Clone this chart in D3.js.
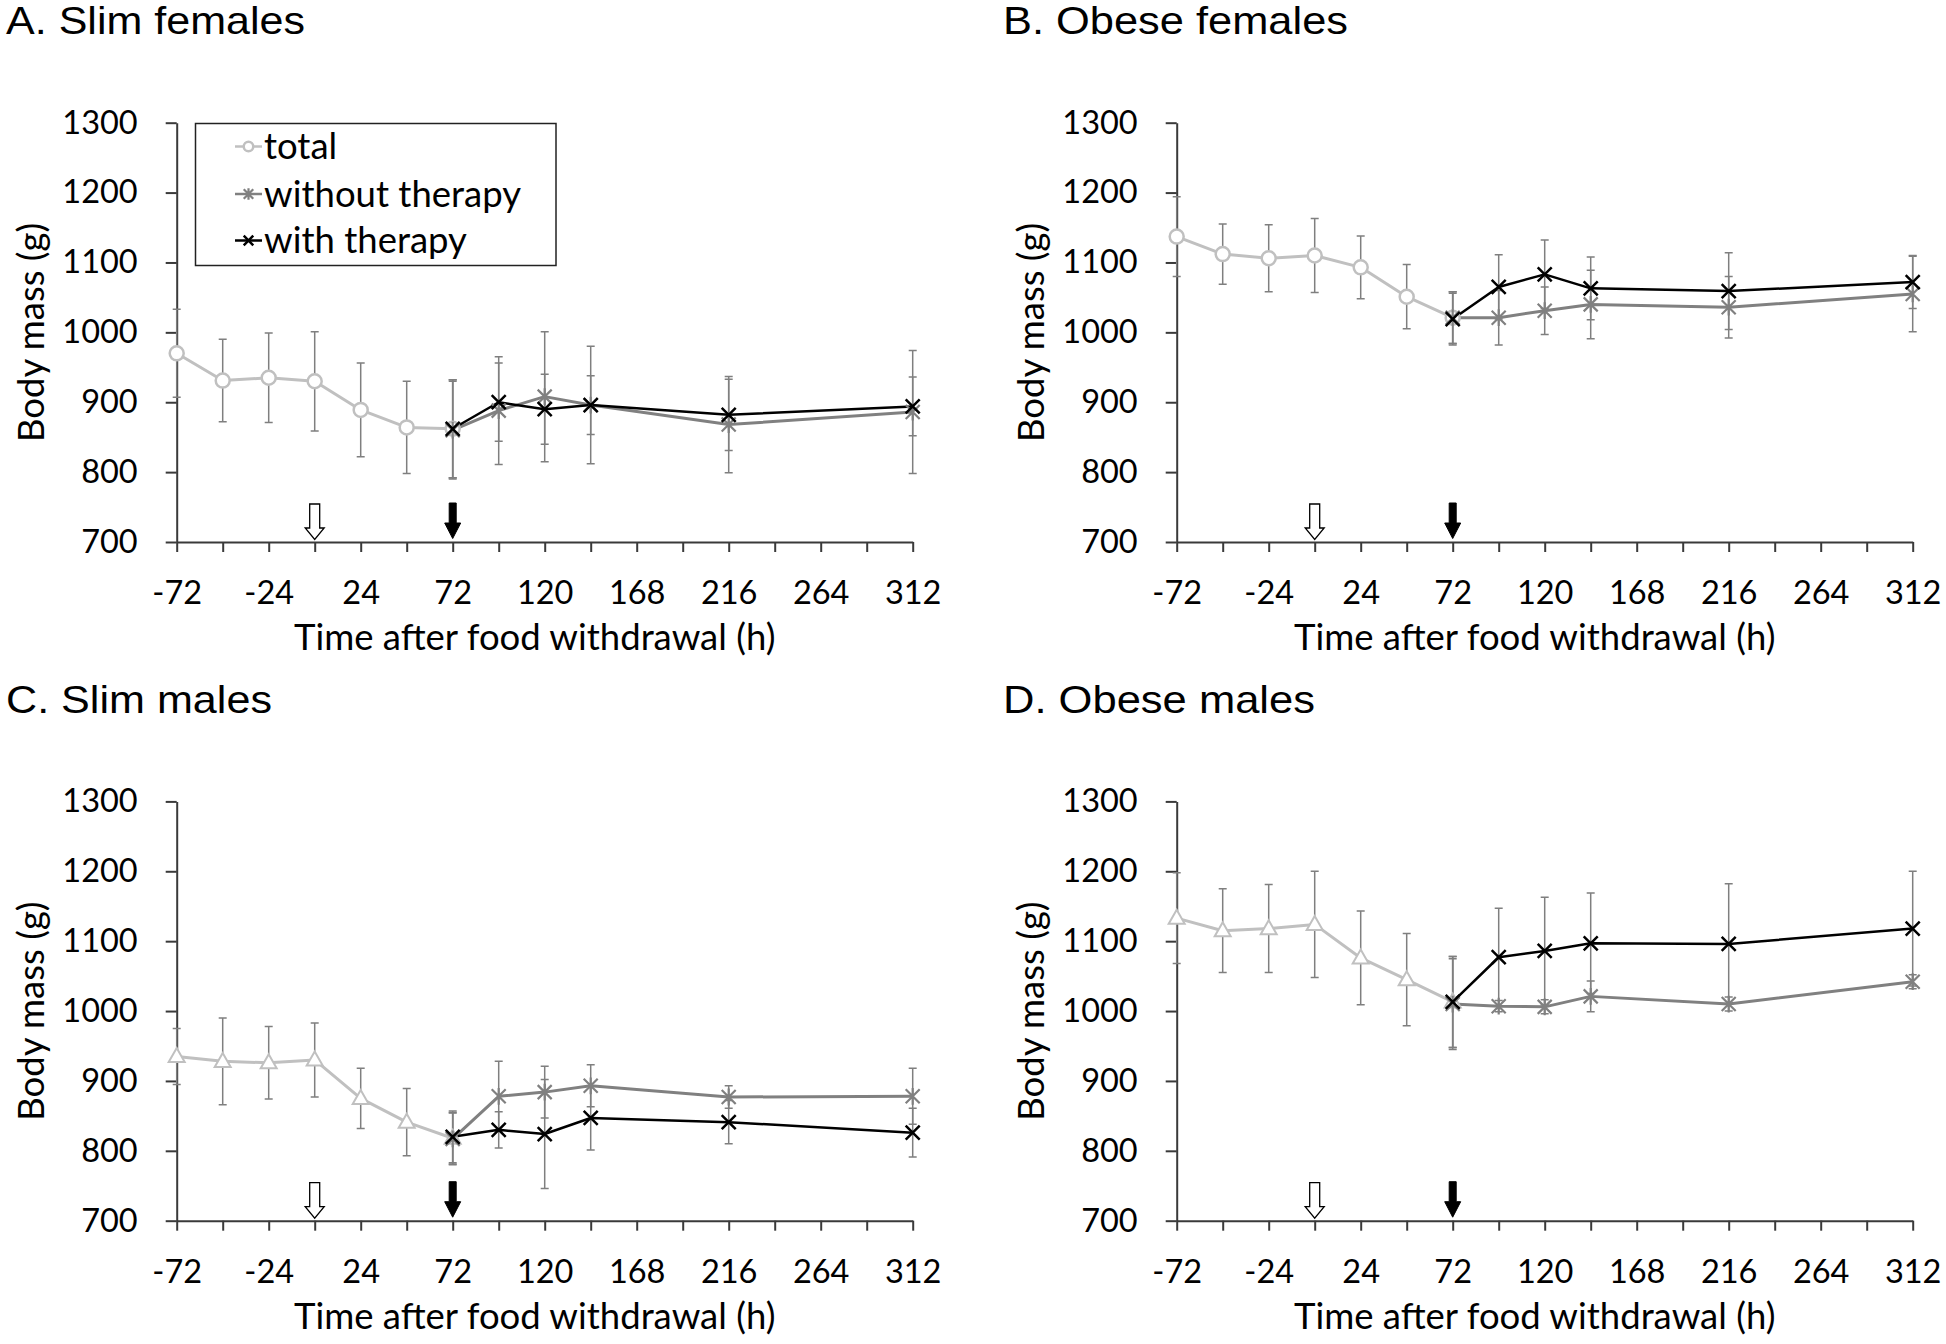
<!DOCTYPE html>
<html>
<head>
<meta charset="utf-8">
<script src="https://cdn.jsdelivr.net/npm/d3@7"></script>
<style>
  html, body { margin: 0; padding: 0; background: #fff; }
  svg { display: block; }
</style>
</head>
<body>
<svg id="chart" width="1946" height="1344"></svg>
<script>
// ---------- data ----------
const panelTitles = ["A. Slim females", "B. Obese females", "C. Slim males", "D. Obese males"];
const totalMarkers = ["circle", "circle", "triangle", "triangle"];
const xTotal = [-72, -48, -24, 0, 24, 48, 72];
const xTherapy = [72, 96, 120, 144, 216, 312];
const xTickValues = [-72, -48, -24, 0, 24, 48, 72, 96, 120, 144, 168, 192, 216, 240, 264, 288, 312];
const xTickLabels = [-72, -24, 24, 72, 120, 168, 216, 264, 312];
const yTickValues = [700, 800, 900, 1000, 1100, 1200, 1300];
const legendLabels = ["total", "without therapy", "with therapy"];
const xAxisTitle = "Time after food withdrawal (h)";
const yAxisTitle = "Body mass (g)";

// Panel A – slim females
const A_total      = [970, 931, 935, 930, 889, 864, 862];
const A_totalErr   = [63, 59, 64, 71, 67, 66, 70];
const A_without    = [860, 888, 908, 896, 868, 886];
const A_withoutErr = [70, 77, 93, 84, 69, 88];
const A_with       = [862, 900, 890, 896, 882, 894];
const A_withErr    = [70, 56, 50, 42, 51, 42];
// Panel B – obese females
const B_total      = [1137, 1112, 1106, 1110, 1093, 1051, 1021];
const B_totalErr   = [57, 43, 48, 53, 45, 46, 37];
const B_without    = [1021, 1021, 1031, 1040, 1036, 1055];
const B_withoutErr = [37, 39, 34, 49, 44, 54];
const B_with       = [1019, 1065, 1083, 1063, 1059, 1072];
const B_withErr    = [37, 46, 49, 45, 55, 38];
// Panel C – slim males
const C_total      = [935, 928, 926, 930, 875, 841, 818];
const C_totalErr   = [40, 62, 52, 53, 43, 48, 37];
const C_without    = [817, 878, 884, 893, 877, 878];
const C_withoutErr = [37, 50, 37, 30, 16, 40];
const C_with       = [820, 830, 824, 847, 841, 826];
const C_withErr    = [37, 26, 78, 46, 31, 35];
// Panel D – obese males
const D_total      = [1133, 1115, 1118, 1124, 1076, 1045, 1013];
const D_totalErr   = [65, 60, 63, 76, 67, 66, 65];
const D_without    = [1010, 1007, 1006, 1021, 1010, 1042];
const D_withoutErr = [65, 8, 10, 22, 10, 10];
const D_with       = [1013, 1077, 1086, 1097, 1096, 1118];
const D_withErr    = [65, 70, 77, 72, 86, 82];

const panelData = [
  {total: A_total, totalErr: A_totalErr, without: A_without, withoutErr: A_withoutErr, withT: A_with, withErr: A_withErr},
  {total: B_total, totalErr: B_totalErr, without: B_without, withoutErr: B_withoutErr, withT: B_with, withErr: B_withErr},
  {total: C_total, totalErr: C_totalErr, without: C_without, withoutErr: C_withoutErr, withT: C_with, withErr: C_withErr},
  {total: D_total, totalErr: D_totalErr, without: D_without, withoutErr: D_withoutErr, withT: D_with, withErr: D_withErr}
];

// ---------- layout ----------
const layout = [
  {x0: 176.7, x1: 912.7, yTop: 122.7, yBot: 542, tx: 6, ty: 34},
  {x0: 1176.7, x1: 1912.7, yTop: 122.7, yBot: 542, tx: 1003, ty: 34},
  {x0: 176.7, x1: 912.7, yTop: 801.4, yBot: 1220.7, tx: 6, ty: 713},
  {x0: 1176.7, x1: 1912.7, yTop: 801.4, yBot: 1220.7, tx: 1003, ty: 713}
];
const titleLengths = [299, 345, 266, 312];

const C_TOTAL = "#c0c0c0", C_WITHOUT = "#808080", C_WITH = "#000000", C_ERR = "#7f7f7f", C_AXIS = "#3a3a3a";
const FONT = "Lato, 'Open Sans', sans-serif";
const LABEL_SIZE = 36.5;

const svg = d3.select("#chart");

function drawMarker(g, type, cx, cy, color, s) {
  if (type === "circle") {
    g.append("circle").attr("cx", cx).attr("cy", cy).attr("r", 7 * s)
      .attr("fill", "#fff").attr("stroke", color).attr("stroke-width", 2.5);
  } else if (type === "triangle") {
    const h = 14 * s, w = 8 * s;
    g.append("path")
      .attr("d", `M${cx},${cy - h * 0.6}L${cx + w},${cy + h * 0.4}L${cx - w},${cy + h * 0.4}Z`)
      .attr("fill", "#fff").attr("stroke", color).attr("stroke-width", 2);
  } else if (type === "star") {
    const r = 7 * s;
    g.append("path")
      .attr("d", `M${cx - r},${cy - r}L${cx + r},${cy + r}M${cx - r},${cy + r}L${cx + r},${cy - r}M${cx},${cy - r * 1.2}L${cx},${cy + r * 1.2}`)
      .attr("fill", "none").attr("stroke", color).attr("stroke-width", 2.2);
  } else if (type === "x") {
    const r = 7 * s;
    g.append("path")
      .attr("d", `M${cx - r},${cy - r}L${cx + r},${cy + r}M${cx - r},${cy + r}L${cx + r},${cy - r}`)
      .attr("fill", "none").attr("stroke", color).attr("stroke-width", 2.5);
  }
}

panelData.forEach((pd, i) => {
  const L = layout[i];
  const x = d3.scaleLinear().domain([-72, 312]).range([L.x0, L.x1]);
  const y = d3.scaleLinear().domain([700, 1300]).range([L.yBot, L.yTop]);
  const g = svg.append("g");

  // title
  g.append("text").attr("x", L.tx).attr("y", L.ty)
    .attr("font-family", "'Liberation Sans', Arial, sans-serif").attr("font-size", 39)
    .attr("textLength", titleLengths[i]).attr("lengthAdjust", "spacingAndGlyphs")
    .attr("fill", "#000").text(panelTitles[i]);

  // axes
  const yAxis = d3.axisLeft(y).tickValues(yTickValues).tickSize(11).tickSizeOuter(0).tickPadding(28)
    .tickFormat(d3.format("d"));
  const gy = g.append("g").attr("transform", `translate(${L.x0},0)`).call(yAxis);
  const xAxis = d3.axisBottom(x).tickValues(xTickValues).tickSize(10).tickSizeOuter(0)
    .tickFormat(d => xTickLabels.includes(d) ? d3.format("d")(d).replace("−", "-") : "");
  const gx = g.append("g").attr("transform", `translate(0,${L.yBot})`).call(xAxis);
  [gx, gy].forEach(a => {
    a.selectAll("path.domain").attr("stroke", C_AXIS).attr("stroke-width", 2);
    a.selectAll(".tick line").attr("stroke", C_AXIS).attr("stroke-width", 2);
    a.selectAll(".tick text").attr("font-family", FONT).attr("font-size", 32.5).attr("fill", "#000");
  });
  gx.selectAll(".tick text").attr("y", 62).attr("dy", null);

  // axis titles
  g.append("text").attr("x", (L.x0 + L.x1) / 2 - 10).attr("y", L.yBot + 108)
    .attr("text-anchor", "middle").attr("font-family", FONT).attr("font-size", LABEL_SIZE).text(xAxisTitle);
  g.append("text").attr("transform", `translate(${L.x0 - 133},${(L.yTop + L.yBot) / 2}) rotate(-90)`)
    .attr("text-anchor", "middle").attr("font-family", FONT).attr("font-size", LABEL_SIZE).text(yAxisTitle);

  // arrows
  const ax0 = x(0), ax1 = x(72), yb = y(700);
  g.append("path")
    .attr("d", `M${ax0 - 5},${yb - 38}L${ax0 + 5},${yb - 38}L${ax0 + 5},${yb - 14}L${ax0 + 9.5},${yb - 14}L${ax0},${yb - 2.5}L${ax0 - 9.5},${yb - 14}L${ax0 - 5},${yb - 14}Z`)
    .attr("fill", "#fff").attr("stroke", "#000").attr("stroke-width", 1.3);
  g.append("path")
    .attr("d", `M${ax1 - 3.5},${yb - 39}L${ax1 + 3.5},${yb - 39}L${ax1 + 3.5},${yb - 19}L${ax1 + 8},${yb - 19}L${ax1},${yb - 3.5}L${ax1 - 8},${yb - 19}L${ax1 - 3.5},${yb - 19}Z`)
    .attr("fill", "#000").attr("stroke", "#000").attr("stroke-width", 1);

  const series = [
    {xs: xTotal, ys: pd.total, err: pd.totalErr, color: C_TOTAL, width: 3, marker: totalMarkers[i]},
    {xs: xTherapy, ys: pd.without, err: pd.withoutErr, color: C_WITHOUT, width: 3, marker: "star"},
    {xs: xTherapy, ys: pd.withT, err: pd.withErr, color: C_WITH, width: 2.5, marker: "x"}
  ];

  // error bars
  const ge = g.append("g").attr("stroke", C_ERR).attr("stroke-width", 1.5).attr("fill", "none");
  series.forEach(s => {
    s.xs.forEach((xv, k) => {
      const cx = x(xv), yHi = y(s.ys[k] + s.err[k]), yLo = y(s.ys[k] - s.err[k]);
      ge.append("path").attr("d", `M${cx},${yHi}L${cx},${yLo}M${cx - 4},${yHi}L${cx + 4},${yHi}M${cx - 4},${yLo}L${cx + 4},${yLo}`);
    });
  });

  // lines
  const line = d3.line().x(d => x(d[0])).y(d => y(d[1]));
  series.forEach(s => {
    g.append("path").datum(s.xs.map((xv, k) => [xv, s.ys[k]]))
      .attr("d", line).attr("fill", "none").attr("stroke", s.color).attr("stroke-width", s.width)
      .attr("stroke-linejoin", "round");
  });
  // markers
  series.forEach(s => {
    s.xs.forEach((xv, k) => drawMarker(g, s.marker, x(xv), y(s.ys[k]), s.color, 1));
  });

  // legend (panel A only)
  if (i === 0) {
    const lg = g.append("g");
    lg.append("rect").attr("x", 195.5).attr("y", 123.5).attr("width", 360.5).attr("height", 142)
      .attr("fill", "#fff").attr("stroke", "#222").attr("stroke-width", 1.5);
    const legendMarkers = ["circle", "star", "x"];
    const legendColors = [C_TOTAL, C_WITHOUT, C_WITH];
    const baselines = [159, 206.5, 253];
    legendLabels.forEach((lab, k) => {
      const my = baselines[k] - 12.5;
      lg.append("line").attr("x1", 235).attr("x2", 262).attr("y1", my).attr("y2", my)
        .attr("stroke", legendColors[k]).attr("stroke-width", 2.5);
      drawMarker(lg, legendMarkers[k], 248.5, my, legendColors[k], 0.68);
      lg.append("text").attr("x", 264).attr("y", baselines[k]).attr("font-family", FONT)
        .attr("font-size", LABEL_SIZE).attr("fill", "#000").text(lab);
    });
  }
});
</script>
</body>
</html>
